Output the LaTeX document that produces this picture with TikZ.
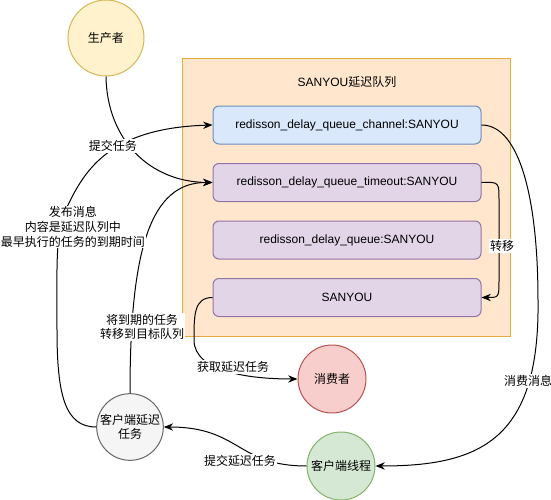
\documentclass[tikz,border=0pt]{standalone}
\usepackage{fontspec}
\setmainfont{Liberation Sans}
\newfontfamily\cjk{Noto Sans CJK SC}
\usetikzlibrary{arrows.meta}

\definecolor{qfill}{RGB}{255,230,204}
\definecolor{qline}{RGB}{228,170,60}
\definecolor{bluefill}{RGB}{218,232,252}
\definecolor{blueline}{RGB}{108,142,191}
\definecolor{purfill}{RGB}{225,213,231}
\definecolor{purline}{RGB}{150,115,166}
\definecolor{yelfill}{RGB}{255,242,204}
\definecolor{yelline}{RGB}{214,182,86}
\definecolor{redfill}{RGB}{248,206,204}
\definecolor{redline}{RGB}{184,84,80}
\definecolor{grnfill}{RGB}{213,232,212}
\definecolor{grnline}{RGB}{130,179,102}
\definecolor{greyfill}{RGB}{245,245,245}
\definecolor{greyline}{RGB}{102,102,102}

\tikzset{every picture/.style={line width=0.75pt}}
\tikzset{
  queuebox/.style={draw, rounded corners=4.5pt, minimum width=201pt, minimum height=28.5pt, inner sep=0pt},
  actor/.style={draw, circle, inner sep=0pt, align=center},
  lbl/.style={fill=white, inner sep=1pt, align=center},
  flow/.style={-{Stealth[length=7pt,width=5.5pt]}},
}

\begin{document}
\begin{tikzpicture}[x=0.75pt,y=0.75pt,yscale=-1,xscale=1,font=\fontsize{9}{11}\selectfont]
  \useasboundingbox (0,0) rectangle (551,500);

  %container
  \draw [qline, fill=qfill] (182,58) rectangle (510,336);
  \node (title) at (347,82) {SANYOU{\cjk 延迟队列}};

  %queues
  \node [queuebox, fill=bluefill, draw=blueline] (channel) at (347,125) {redisson\_delay\_queue\_channel:SANYOU};
  \node [queuebox, fill=purfill, draw=purline] (timeout) at (347,182.5) {redisson\_delay\_queue\_timeout:SANYOU};
  \node [queuebox, fill=purfill, draw=purline] (delayq) at (347,240) {redisson\_delay\_queue:SANYOU};
  \node [queuebox, fill=purfill, draw=purline] (target) at (347,297.5) {SANYOU};

  %actors
  \node [actor, fill=yelfill, draw=yelline, minimum size=57pt] (producer) at (106,38) {\cjk 生产者};
  \node [actor, fill=redfill, draw=redline, minimum size=51pt] (consumer) at (332,379) {\cjk 消费者};
  \node [actor, fill=grnfill, draw=grnline, minimum size=51pt] (thread) at (341,466) {\cjk 客户端线程};
  \node [actor, fill=greyfill, draw=greyline, minimum size=50pt] (delaytask) at (130,427) {\cjk 客户端延迟\\\cjk 任务};

  %connectors
  \draw [flow] (producer.south) .. controls (107,140) and (150,182) .. (timeout.west);
  \draw [flow] (delaytask.west) .. controls (65,427) and (57,395) .. (57,330)
     .. controls (57,260) and (55,230) .. (68,205)
     .. controls (85,170) and (110,128) .. (channel.west);
  \draw [flow] (delaytask.north) .. controls (130,250) and (150,182) .. (timeout.west);
  \draw [flow] (timeout.east) .. controls (499,182) .. (499,200) -- (499,280) .. controls (499,297.5) .. (target.east);
  \draw [flow] (channel.east) .. controls (520,125) and (538,200) .. (538,300)
     .. controls (540,440) and (480,466) .. (thread.east);
  \draw [flow] (target.west) .. controls (194,297.5) and (194,315) .. (194,340)
     .. controls (194,372) and (250,379) .. (consumer.west);
  \draw [flow] (thread.west) .. controls (237,466) and (240,427) .. (delaytask.east);

  %labels
  \node [lbl] (lsubmit) at (113,146) {\cjk 提交任务};
  \node [lbl, inner sep=0.5pt] (lpublish) at (73,227) {\cjk 发布消息\\\cjk 内容是延迟队列中\\\cjk 最早执行的任务的到期时间};
  \node [lbl] (lmove) at (142,327) {\cjk 将到期的任务\\\cjk 转移到目标队列};
  \node [lbl] (ltransfer) at (502,246) {\cjk 转移};
  \node [lbl] (lconsume) at (528,381) {\cjk 消费消息};
  \node [lbl] (lfetch) at (233,367) {\cjk 获取延迟任务};
  \node [lbl] (lsubmitdelay) at (240,461) {\cjk 提交延迟任务};
\end{tikzpicture}
\end{document}
